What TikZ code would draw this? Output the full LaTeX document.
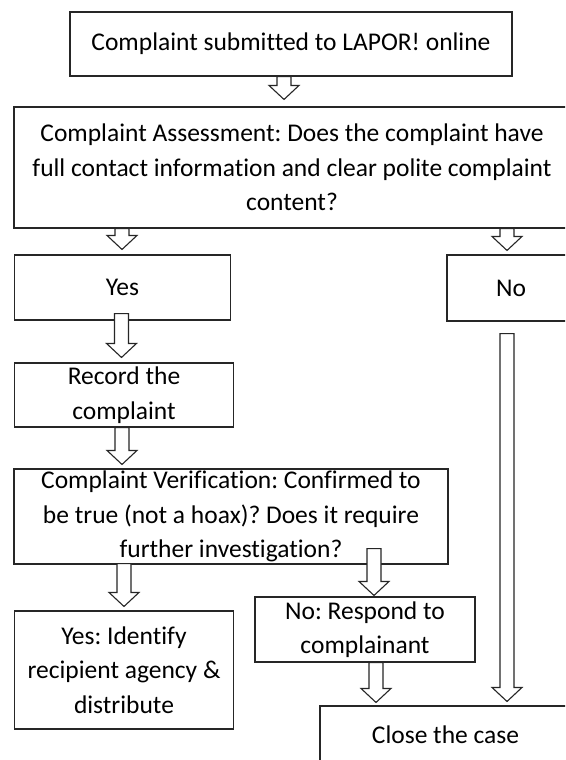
\documentclass[tikz,border=0pt]{standalone}
\usepackage{fontspec}
\setmainfont[Ligatures=NoCommon]{Carlito}
\usetikzlibrary{calc}
\frenchspacing
\tikzset{
  box/.style={draw=black!85, line width=1.1pt, fill=white, inner sep=0pt, align=center,
    font=\fontsize{25.5}{34.5}\selectfont, text=black},
  arr/.style={draw=black!85, line width=1.1pt, fill=white, line join=miter},
}
\newcommand\barrow[2]{\draw[arr] ($(#1)+(-7,0)$) -- ($(#2)+(-7,-14)$) -- ($(#2)+(-15,-14)$) -- (#2) -- ($(#2)+(15,-14)$) -- ($(#2)+(7,-14)$) -- ($(#1)+(7,0)$) -- cycle;}
\begin{document}
\begin{tikzpicture}[x=1pt,y=-1pt]
\useasboundingbox (0,0) rectangle (565,760);
\clip (0,0) rectangle (565,760);
\fill[white] (0,0) rectangle (565,760);
% boxes
\node[box, minimum width=442pt, minimum height=64pt] (b1) at (291,44) {Complaint submitted to LAPOR! online};
\node[box, minimum width=556pt, minimum height=121pt] (b2) at (292,167.5) {Complaint Assessment: Does the complaint have\\full contact information and clear polite complaint\\content?};
\node[box, minimum width=216pt, minimum height=65pt] (yes) at (122.5,287.5) {Yes};
\node[box, minimum width=128pt, minimum height=66pt] (no) at (511,288) {No};
\node[box, minimum width=219pt, minimum height=64pt] (rec) at (124,395) {Record the\\complaint};
\node[box, minimum width=434pt, minimum height=95pt] (ver) at (231,516.5) {Complaint Verification: Confirmed to\\be true (not a hoax)? Does it require\\further investigation?};
\node[box, minimum width=219pt, minimum height=118pt] (idf) at (124,670) {Yes: Identify\\recipient agency \&\\distribute};
\node[box, minimum width=220pt, minimum height=65pt] (resp) at (365,629.5) {No: Respond to\\complainant};
\node[box, minimum width=251pt, minimum height=58pt] (close) at (445.5,735) {Close the case};
% arrow coordinates
\coordinate (a1s) at ($(b1.south)+(-7,0)$);
\coordinate (a1e) at ($(a1s |- b2.north)+(0,-7)$);
\coordinate (a2s) at ($(b2.south)+(-170,0)$);
\coordinate (a2e) at ($(a2s |- yes.north)+(0,-5)$);
\coordinate (a3s) at ($(b2.south)+(215,0)$);
\coordinate (a3e) at ($(a3s |- no.north)+(0,-4)$);
\coordinate (a4s) at ($(yes.south)+(-1,-7)$);
\coordinate (a4e) at ($(a4s |- rec.north)+(0,-5)$);
\coordinate (a5s) at ($(rec.south)+(-2,0)$);
\coordinate (a5e) at ($(a5s |- ver.north)+(0,-4)$);
\coordinate (a6s) at ($(no.south)+(-4,12)$);
\coordinate (a6e) at ($(a6s |- close.north)+(0,-4)$);
\coordinate (a7s) at ($(ver.south)+(-107,-1)$);
\coordinate (a7e) at ($(a7s |- idf.north)+(0,-4)$);
\coordinate (a8s) at ($(ver.south)+(143,-16)$);
\coordinate (a8e) at ($(a8s |- resp.north)+(0,-1)$);
\coordinate (a9s) at ($(resp.south)+(11,0)$);
\coordinate (a9e) at ($(a9s |- close.north)+(0,-3)$);
\barrow{a1s}{a1e}
\barrow{a2s}{a2e}
\barrow{a3s}{a3e}
\barrow{a4s}{a4e}
\barrow{a5s}{a5e}
\barrow{a6s}{a6e}
\barrow{a7s}{a7e}
\barrow{a8s}{a8e}
\barrow{a9s}{a9e}
\end{tikzpicture}
\end{document}
